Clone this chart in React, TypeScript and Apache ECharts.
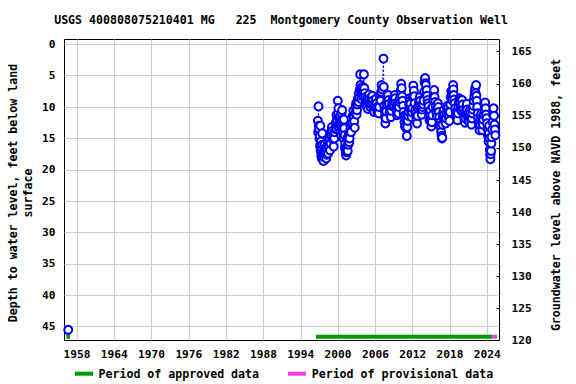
import React, { useEffect, useRef } from "react";
import * as echarts from "echarts";

const TITLE = "USGS 400808075210401 MG   225  Montgomery County Observation Well";
const LEFT_NAME = "Depth to water level, feet below land\nsurface";
const RIGHT_NAME = "Groundwater level above NAVD 1988, feet";
const LEGEND_APPROVED = "Period of approved data";
const LEGEND_PROVISIONAL = "Period of provisional data";

const yearTicks = [1958, 1964, 1970, 1976, 1982, 1988, 1994, 2000, 2006, 2012, 2018, 2024];
const depthTicks = [0, 5, 10, 15, 20, 25, 30, 35, 40, 45];
const elevTicks = [120, 125, 130, 135, 140, 145, 150, 155, 160, 165];

const earlyObs: [number, number][] = [[1956.6, 45.5]];

const obs: [number, number][] = [
  [1996.75, 12.2], [1996.8, 14.0], [1996.85, 9.9], [1996.9, 13.0], [1996.95, 13.5], [1997.0, 15.0],
  [1997.05, 14.6], [1997.1, 16.2], [1997.15, 13.0], [1997.2, 17.0], [1997.25, 15.5], [1997.3, 17.8],
  [1997.35, 16.6], [1997.4, 18.2], [1997.45, 14.2], [1997.5, 16.0], [1997.55, 17.9], [1997.6, 17.4],
  [1997.65, 18.6], [1997.7, 17.0], [1997.75, 17.2], [1997.8, 18.0], [1997.85, 16.0], [1997.9, 17.0],
  [1997.95, 17.5], [1998.05, 16.5], [1998.1, 18.2], [1998.2, 17.6], [1998.25, 16.8], [1998.35, 16.0],
  [1998.4, 17.4], [1998.5, 16.4], [1998.55, 15.5], [1998.65, 15.0], [1998.7, 16.9], [1998.8, 15.8],
  [1998.85, 14.0], [1998.95, 14.6], [1999.0, 13.2], [1999.1, 13.8], [1999.15, 15.2], [1999.25, 14.5],
  [1999.3, 16.3], [1999.4, 15.0], [1999.45, 14.0], [1999.55, 13.5], [1999.6, 12.6], [1999.7, 13.4],
  [1999.75, 11.3], [1999.8, 12.2], [1999.85, 13.0], [1999.95, 9.0], [2000.0, 11.0], [2000.05, 10.2],
  [2000.1, 12.8], [2000.15, 11.8], [2000.2, 13.5], [2000.25, 12.5], [2000.3, 11.5], [2000.35, 14.0],
  [2000.4, 12.2], [2000.45, 13.0], [2000.5, 14.5], [2000.55, 11.0], [2000.6, 12.4], [2000.65, 10.5],
  [2000.7, 13.6], [2000.75, 12.0], [2000.8, 14.2], [2000.85, 13.1], [2000.9, 15.0], [2000.95, 12.0],
  [2001.0, 13.4], [2001.05, 14.5], [2001.1, 16.4], [2001.15, 15.8], [2001.2, 16.8], [2001.25, 17.4],
  [2001.3, 17.7], [2001.35, 16.5], [2001.4, 17.2], [2001.45, 15.0], [2001.5, 16.2], [2001.55, 17.0],
  [2001.6, 15.3], [2001.65, 16.0], [2001.7, 14.8], [2001.75, 14.2], [2001.8, 15.6], [2001.85, 15.0],
  [2001.92, 13.8], [2002.0, 13.1], [2002.08, 14.0], [2002.15, 11.8], [2002.22, 12.8], [2002.3, 12.5],
  [2002.38, 11.4], [2002.45, 10.6], [2002.52, 11.6], [2002.6, 12.3], [2002.68, 13.3], [2002.75, 11.0],
  [2002.82, 10.0], [2002.9, 9.4], [2002.98, 11.2], [2003.05, 10.5], [2003.12, 9.6], [2003.2, 8.6],
  [2003.28, 9.2], [2003.35, 7.8], [2003.42, 8.5], [2003.5, 7.2], [2003.55, 4.8], [2003.6, 6.5],
  [2003.68, 7.0], [2003.75, 8.7], [2003.8, 8.2], [2003.88, 7.4], [2003.95, 6.8], [2004.02, 8.0],
  [2004.08, 7.5], [2004.15, 4.8], [2004.22, 7.0], [2004.3, 7.8], [2004.38, 8.4], [2004.45, 8.9],
  [2004.52, 9.6], [2004.6, 9.9], [2004.68, 9.0], [2004.75, 8.5], [2004.82, 10.3], [2004.9, 9.2],
  [2004.98, 8.0], [2005.05, 8.7], [2005.12, 9.4], [2005.2, 10.0], [2005.28, 9.5], [2005.35, 9.0],
  [2005.42, 8.6], [2005.5, 8.2], [2005.58, 9.0], [2005.65, 9.6], [2005.72, 10.4], [2005.8, 10.8],
  [2005.88, 10.0], [2005.95, 9.3], [2006.02, 9.8], [2006.1, 8.7], [2006.18, 9.4], [2006.25, 10.2],
  [2006.32, 10.8], [2006.4, 9.9], [2006.48, 10.5], [2006.55, 11.0], [2006.62, 10.0], [2006.7, 8.3],
  [2006.78, 8.8], [2006.85, 9.0], [2006.92, 7.6], [2007.0, 6.5], [2007.1, 7.2], [2007.3, 2.3],
  [2007.35, 6.8], [2007.4, 9.8], [2007.45, 10.5], [2007.5, 11.5], [2007.55, 10.6], [2007.6, 12.6],
  [2007.68, 11.8], [2007.75, 10.7], [2007.82, 9.6], [2007.9, 9.1], [2007.98, 8.6], [2008.05, 8.1],
  [2008.12, 8.9], [2008.2, 9.5], [2008.28, 10.9], [2008.35, 10.4], [2008.42, 11.0], [2008.5, 11.6],
  [2008.58, 10.6], [2008.65, 9.8], [2008.72, 9.2], [2008.8, 8.8], [2008.88, 9.4], [2008.95, 9.9],
  [2009.02, 8.8], [2009.1, 8.1], [2009.18, 8.6], [2009.25, 9.4], [2009.32, 10.2], [2009.4, 10.5],
  [2009.48, 11.3], [2009.55, 9.6], [2009.62, 10.1], [2009.7, 11.0], [2009.78, 10.0], [2009.85, 9.2],
  [2009.92, 8.8], [2010.0, 8.4], [2010.08, 7.4], [2010.15, 6.3], [2010.22, 7.0], [2010.3, 8.3],
  [2010.38, 9.0], [2010.45, 9.8], [2010.52, 10.8], [2010.6, 11.4], [2010.68, 12.4], [2010.75, 13.1],
  [2010.82, 11.6], [2010.9, 12.0], [2010.98, 13.4], [2011.05, 14.6], [2011.12, 13.2], [2011.2, 12.2],
  [2011.28, 11.4], [2011.35, 10.7], [2011.42, 9.6], [2011.5, 8.6], [2011.58, 9.0], [2011.65, 9.5],
  [2011.72, 10.6], [2011.8, 11.6], [2011.88, 10.8], [2011.95, 10.2], [2012.02, 8.4], [2012.1, 6.6],
  [2012.18, 7.4], [2012.25, 8.3], [2012.32, 9.4], [2012.4, 10.5], [2012.48, 11.0], [2012.55, 11.5],
  [2012.62, 12.0], [2012.7, 12.6], [2012.78, 11.4], [2012.85, 10.2], [2012.92, 9.8], [2013.0, 9.3],
  [2013.08, 8.8], [2013.15, 8.4], [2013.22, 9.0], [2013.3, 9.8], [2013.38, 10.6], [2013.45, 11.2],
  [2013.52, 10.4], [2013.6, 10.0], [2013.68, 9.6], [2013.75, 9.0], [2013.82, 7.6], [2013.9, 6.0],
  [2013.95, 5.6], [2014.0, 5.4], [2014.05, 6.2], [2014.1, 6.5], [2014.18, 7.8], [2014.25, 7.3],
  [2014.32, 8.2], [2014.4, 8.9], [2014.48, 9.4], [2014.55, 9.9], [2014.62, 11.0], [2014.7, 12.1],
  [2014.78, 11.2], [2014.85, 10.5], [2014.92, 12.0], [2015.0, 13.1], [2015.08, 12.4], [2015.15, 11.3],
  [2015.22, 10.0], [2015.3, 8.9], [2015.38, 8.0], [2015.45, 7.3], [2015.52, 8.4], [2015.6, 9.2],
  [2015.68, 9.8], [2015.75, 10.5], [2015.82, 11.0], [2015.9, 11.5], [2015.98, 10.2], [2016.05, 9.4],
  [2016.12, 10.0], [2016.2, 10.8], [2016.28, 11.6], [2016.35, 12.5], [2016.42, 12.9], [2016.5, 13.2],
  [2016.58, 14.0], [2016.65, 14.6], [2016.7, 15.0], [2016.75, 14.9], [2016.8, 12.8], [2016.85, 11.5],
  [2016.92, 10.8], [2017.0, 10.5], [2017.08, 11.2], [2017.15, 11.8], [2017.22, 12.3], [2017.3, 12.6],
  [2017.38, 11.8], [2017.45, 11.0], [2017.52, 10.2], [2017.6, 9.8], [2017.68, 10.2], [2017.75, 10.8],
  [2017.82, 11.6], [2017.9, 12.2], [2017.98, 10.8], [2018.05, 9.6], [2018.12, 8.4], [2018.2, 7.5],
  [2018.28, 8.2], [2018.35, 8.9], [2018.42, 7.6], [2018.5, 6.5], [2018.55, 7.2], [2018.6, 8.1],
  [2018.68, 8.8], [2018.75, 9.4], [2018.82, 10.2], [2018.9, 10.8], [2018.98, 11.4], [2019.05, 11.0],
  [2019.12, 11.6], [2019.2, 12.1], [2019.28, 11.0], [2019.35, 10.0], [2019.42, 9.2], [2019.5, 8.6],
  [2019.58, 8.9], [2019.65, 9.2], [2019.72, 10.0], [2019.8, 10.6], [2019.88, 9.8], [2019.95, 8.9],
  [2020.02, 9.6], [2020.1, 10.5], [2020.18, 11.0], [2020.25, 11.5], [2020.32, 12.0], [2020.4, 12.5],
  [2020.48, 11.8], [2020.55, 11.0], [2020.62, 10.2], [2020.7, 9.5], [2020.78, 10.4], [2020.85, 11.2],
  [2020.92, 11.8], [2021.0, 12.3], [2021.08, 11.4], [2021.15, 10.6], [2021.22, 11.0], [2021.3, 11.6],
  [2021.38, 12.2], [2021.45, 12.8], [2021.52, 11.8], [2021.6, 11.0], [2021.68, 10.4], [2021.75, 9.8],
  [2021.82, 9.0], [2021.9, 8.3], [2021.98, 7.6], [2022.05, 7.0], [2022.12, 7.8], [2022.2, 6.5],
  [2022.25, 8.2], [2022.3, 9.0], [2022.38, 10.0], [2022.45, 11.0], [2022.52, 11.8], [2022.6, 12.4],
  [2022.68, 13.0], [2022.75, 13.7], [2022.82, 12.8], [2022.9, 12.0], [2022.98, 11.4], [2023.05, 11.0],
  [2023.12, 12.4], [2023.2, 13.7], [2023.28, 12.8], [2023.35, 12.0], [2023.42, 11.2], [2023.5, 10.5],
  [2023.58, 9.8], [2023.65, 9.3], [2023.72, 10.2], [2023.8, 11.2], [2023.88, 11.8], [2023.95, 12.6],
  [2024.02, 13.4], [2024.1, 14.5], [2024.15, 13.6], [2024.2, 15.5], [2024.25, 14.2], [2024.3, 13.0],
  [2024.35, 15.0], [2024.4, 16.8], [2024.45, 17.6], [2024.5, 18.3], [2024.55, 17.5], [2024.6, 17.0],
  [2024.65, 15.8], [2024.7, 14.8], [2024.78, 13.6], [2024.85, 12.4], [2024.92, 11.2], [2025.0, 10.2],
  [2025.08, 11.4], [2025.15, 12.8], [2025.22, 13.6], [2025.3, 14.5],
];

const approvedPeriods: [number, number][] = [[1956.3, 1956.9], [1996.44, 2024.8]];
const provisionalPeriods: [number, number][] = [[2024.8, 2025.56]];
const periodDepth = 46.6;

const FONT = "'DejaVu Sans Mono', monospace";
const BLUE = "#0000ff";
const GREEN = "#009900";
const MAGENTA = "#f040e0";

function periodData(periods: [number, number][]) {
  const out: (number | null)[][] = [];
  periods.forEach((p, i) => {
    if (i > 0) out.push([(periods[i - 1][1] + p[0]) / 2, null]);
    out.push([p[0], periodDepth]);
    out.push([p[1], periodDepth]);
  });
  return out;
}

const labelStyle = {
  color: "#000",
  fontFamily: FONT,
  fontWeight: "bold" as const,
  fontSize: 11.2,
};

export default function App() {
  const ref = useRef<HTMLDivElement>(null);
  useEffect(() => {
    if (!ref.current) return;
    const chart = echarts.init(ref.current, undefined, { renderer: "svg" });
    const waterData: (number | null)[][] = [...earlyObs, [1976, null], ...obs];
    chart.setOption({
      animation: false,
      backgroundColor: "#ffffff",
      grid: {
        left: 64.5,
        right: 76.5,
        top: 39.5,
        bottom: 43.5,
        show: true,
        borderColor: "#000000",
        borderWidth: 1,
        backgroundColor: "transparent",
      },
      xAxis: {
        type: "value",
        min: 1956.0,
        max: 2025.96,
        axisLine: { show: false },
        axisTick: { show: false, customValues: yearTicks },
        axisLabel: {
          ...labelStyle,
          customValues: yearTicks,
          margin: 8,
          formatter: (v: number) => String(Math.round(v)),
        },
        splitLine: { show: true, lineStyle: { color: "#cccccc", width: 1 } },
      },
      yAxis: [
        {
          type: "value",
          inverse: true,
          min: -0.76,
          max: 47.2,
          position: "left",
          axisLine: { show: false },
          axisTick: { show: false, customValues: depthTicks },
          axisLabel: {
            ...labelStyle,
            customValues: depthTicks,
            margin: 9,
            formatter: (v: number) => String(Math.round(v)),
          },
          splitLine: { show: true, lineStyle: { color: "#cccccc", width: 1 } },
        },
        {
          type: "value",
          min: 120,
          max: 166.9,
          position: "right",
          axisLine: { show: false },
          axisTick: {
            show: true,
            inside: true,
            length: 3,
            customValues: elevTicks,
            lineStyle: { color: "#000" },
          },
          axisLabel: {
            ...labelStyle,
            customValues: elevTicks,
            margin: 12,
            formatter: (v: number) => String(Math.round(v)),
          },
          splitLine: { show: false },
        },
      ],
      series: [
        {
          name: LEGEND_APPROVED,
          type: "line",
          yAxisIndex: 0,
          data: periodData(approvedPeriods),
          showSymbol: false,
          symbol: "none",
          connectNulls: false,
          lineStyle: { color: GREEN, width: 4, cap: "butt" },
          silent: true,
          z: 1,
        },
        {
          name: LEGEND_PROVISIONAL,
          type: "line",
          yAxisIndex: 0,
          data: periodData(provisionalPeriods),
          showSymbol: false,
          symbol: "none",
          lineStyle: { color: MAGENTA, width: 4, cap: "butt" },
          silent: true,
          z: 1,
        },
        {
          name: "Depth to water",
          type: "line",
          yAxisIndex: 0,
          data: waterData,
          connectNulls: false,
          symbol: "emptyCircle",
          symbolSize: 8,
          showAllSymbol: true,
          itemStyle: { color: BLUE, borderColor: BLUE, borderWidth: 1.1 },
          lineStyle: { color: BLUE, width: 1, type: [2, 2] },
          z: 3,
        },
      ],
      graphic: [
        {
          type: "text",
          x: 281,
          y: 20,
          style: {
            text: TITLE,
            fontFamily: FONT,
            fontWeight: "bold",
            fontSize: 11.6,
            fill: "#000",
            align: "center",
            verticalAlign: "middle",
          },
        },
        {
          type: "text",
          x: 20.5,
          y: 193,
          rotation: Math.PI / 2,
          style: {
            text: LEFT_NAME,
            fontFamily: FONT,
            fontWeight: "bold",
            fontSize: 11.6,
            lineHeight: 15,
            fill: "#000",
            align: "center",
            verticalAlign: "middle",
          },
        },
        {
          type: "text",
          x: 556,
          y: 195,
          rotation: Math.PI / 2,
          style: {
            text: RIGHT_NAME,
            fontFamily: FONT,
            fontWeight: "bold",
            fontSize: 11.6,
            fill: "#000",
            align: "center",
            verticalAlign: "middle",
          },
        },
        { type: "rect", shape: { x: 75, y: 371.7, width: 18, height: 4 }, style: { fill: GREEN } },
        {
          type: "text",
          x: 98.5,
          y: 373.7,
          style: {
            text: LEGEND_APPROVED,
            fontFamily: FONT,
            fontWeight: "bold",
            fontSize: 11.6,
            fill: "#000",
            align: "left",
            verticalAlign: "middle",
          },
        },
        { type: "rect", shape: { x: 288, y: 371.7, width: 18, height: 4 }, style: { fill: MAGENTA } },
        {
          type: "text",
          x: 311.7,
          y: 373.7,
          style: {
            text: LEGEND_PROVISIONAL,
            fontFamily: FONT,
            fontWeight: "bold",
            fontSize: 11.6,
            fill: "#000",
            align: "left",
            verticalAlign: "middle",
          },
        },
      ],
    });
    return () => chart.dispose();
  }, []);
  return <div ref={ref} style={{ width: 576, height: 384, position: "fixed", left: 0, top: 0 }} />;
}
